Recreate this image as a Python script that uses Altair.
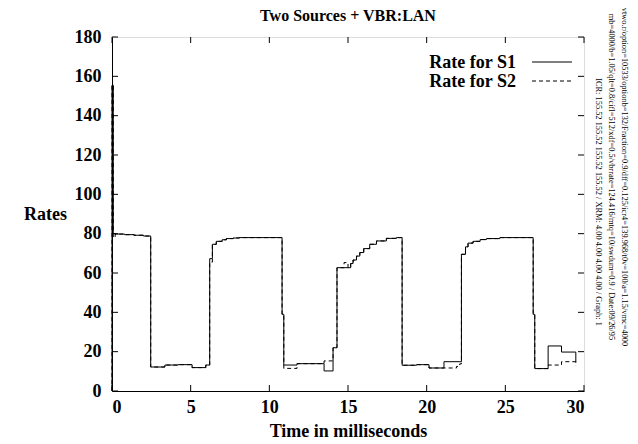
import altair as alt
import pandas as pd

# ---------------- data ----------------
S1_T = [0, 0, 0.08, 0.2, 0.8, 1.4, 2.0, 2.46, 3.36, 4.2, 5.09, 5.96, 6.21, 6.38, 6.63,
        7.0, 7.27, 7.7, 8.1, 10.81, 10.92, 11.76, 13.48, 14.05, 14.3, 15.17, 15.32,
        15.54, 15.75, 16.0, 16.38, 16.81, 17.44, 18.08, 18.44, 19.35, 20.15, 21.1,
        22.21, 22.47, 22.63, 22.95, 23.4, 23.8, 24.65, 26.77, 26.87, 27.72, 28.57, 29.48]
S1_V = [0, 155.5, 80, 79.8, 79.5, 79.2, 78.8, 12.2, 13.2, 13.4, 11.9, 13.2, 67.3, 74.6, 76.1,
        76.9, 77.5, 77.8, 78.0, 39, 13.2, 13.9, 10.2, 22, 62.7, 64.8, 66.6,
        68.6, 70.4, 72.4, 74.6, 76.3, 77.6, 78.0, 13.1, 13.4, 11.7, 14.9,
        69.5, 73.3, 75.2, 76.1, 77.0, 77.5, 78.0, 39, 11.4, 22.9, 19.8, 14.4]

S2_T = [0, 0, 0.08, 0.2, 0.8, 1.4, 2.0, 2.46, 3.36, 4.2, 5.09, 5.96, 6.21, 6.38, 6.63,
        7.0, 7.27, 7.7, 8.1, 10.81, 10.92, 11.76, 13.48, 14.05, 14.3, 14.75, 15.0, 15.17,
        15.32, 15.54, 15.75, 16.0, 16.38, 16.81, 17.44, 18.08, 18.44, 19.35, 20.15, 21.9,
        22.1, 22.21, 22.47, 22.63, 22.95, 23.4, 23.8, 24.65, 26.77, 26.87, 27.72, 28.57, 29.48]
S2_V = [0, 155.5, 78, 79.8, 79.5, 79.2, 78.8, 12.2, 13.2, 13.4, 11.9, 13.2, 65.5, 74.6, 76.1,
        76.9, 77.5, 77.8, 78.0, 39, 11.5, 13.9, 15.3, 22, 62.7, 65.3, 62.7, 64.8,
        66.6, 68.6, 70.4, 72.4, 74.6, 76.3, 77.6, 78.0, 13.1, 13.4, 11.7, 12.5,
        13.8, 69.5, 73.3, 75.2, 76.1, 77.0, 77.5, 78.0, 39, 11.4, 13.2, 14.9, 13.0]

X_TICKS = [0, 5, 10, 15, 20, 25, 30]
Y_TICKS = [0, 20, 40, 60, 80, 100, 120, 140, 160, 180]

TITLE = "Two Sources + VBR:LAN"
X_TITLE = "Time in milliseconds"
Y_TITLE = "Rates"
LEGEND_LABELS = ["Rate for S1", "Rate for S2"]
NOTES = [
    "vtwo.r/option=10533/optionb=132/Fraction=0.9/dff=0.125/icr4=139.968/t0v=100/a=1.15/vmc=4000",
    "mb=4000/b=1.05/qlt=0.8/cifl=512/xdf=0.5/vbrrate=124.416/mtq=10/swdum=0.9 / Date:09/26/95",
    "ICR: 155.52 155.52 155.52 155.52 / XRM: 4.00 4.00 4.00 4.00 / Graph: 1",
]

# ---------------- build ----------------
W, H = 472, 354
FONT = "Liberation Serif"

rows = []
for i, (t, v) in enumerate(zip(S1_T, S1_V)):
    rows.append({"t": t, "rate": v, "series": "S1", "idx": i})
for i, (t, v) in enumerate(zip(S2_T, S2_V)):
    rows.append({"t": t, "rate": v, "series": "S2", "idx": i})
df = pd.DataFrame(rows)

xscale = alt.Scale(domain=[0, 30], nice=False, zero=False)
yscale = alt.Scale(domain=[0, 180], nice=False)

xaxis = alt.Axis(values=X_TICKS, ticks=False, grid=False, format="d",
                 labelFont=FONT, labelFontWeight="bold", labelFontSize=18,
                 labelPadding=7, labelColor="black",
                 title=X_TITLE, titleFont=FONT, titleFontWeight="bold", titleFontSize=18,
                 titlePadding=6, titleColor="black",
                 domainColor="black", domainWidth=1)
yaxis = alt.Axis(values=Y_TICKS, ticks=False, grid=False, format="d",
                 labelFont=FONT, labelFontWeight="bold", labelFontSize=18,
                 labelPadding=11, labelColor="black",
                 title=Y_TITLE, titleFont=FONT, titleFontWeight="bold", titleFontSize=18,
                 titleColor="black", titleAngle=0, titleX=-67, titleY=H / 2,
                 titleAlign="center", titleBaseline="middle",
                 domainColor="black", domainWidth=1)

base = alt.Chart(df)
s1 = base.transform_filter(alt.datum.series == "S1").mark_line(
    interpolate="step-after", color="black", strokeWidth=1
).encode(
    x=alt.X("t:Q", scale=xscale, axis=xaxis),
    y=alt.Y("rate:Q", scale=yscale, axis=yaxis),
    order="idx:Q",
)
s2 = base.transform_filter(alt.datum.series == "S2").mark_line(
    interpolate="step-after", color="black", strokeWidth=1, strokeDash=[4, 3]
).encode(
    x=alt.X("t:Q", scale=xscale, axis=xaxis),
    y=alt.Y("rate:Q", scale=yscale, axis=yaxis),
    order="idx:Q",
)

xt = alt.Chart(pd.DataFrame({"t": X_TICKS}))
yt = alt.Chart(pd.DataFrame({"rate": Y_TICKS}))
tick_layers = [
    xt.mark_rule(color="black").encode(x=alt.X("t:Q", scale=xscale, axis=xaxis),
                                       y=alt.value(H), y2=alt.value(H - 6)),
    xt.mark_rule(color="black").encode(x=alt.X("t:Q", scale=xscale, axis=xaxis),
                                       y=alt.value(0), y2=alt.value(6)),
    yt.mark_rule(color="black").encode(y=alt.Y("rate:Q", scale=yscale, axis=yaxis),
                                       x=alt.value(0), x2=alt.value(6)),
    yt.mark_rule(color="black").encode(y=alt.Y("rate:Q", scale=yscale, axis=yaxis),
                                       x=alt.value(W), x2=alt.value(W - 6)),
]

leg_layers = []
leg_df = pd.DataFrame({"label": LEGEND_LABELS})
for k, (ty, ly, dash) in enumerate([(31, 25, [1, 0]), (49.5, 44, [4, 3])]):
    d = alt.Chart(leg_df).transform_filter(alt.datum.label == LEGEND_LABELS[k])
    leg_layers.append(
        d.mark_text(font=FONT, fontWeight="bold", fontSize=18, align="right",
                    baseline="alphabetic", color="black")
        .encode(x=alt.value(404), y=alt.value(ty), text="label:N"))
    leg_layers.append(
        d.mark_rule(color="black", strokeWidth=1, strokeDash=dash)
        .encode(x=alt.value(420), x2=alt.value(460), y=alt.value(ly)))

title_layer = alt.Chart(pd.DataFrame({"title": [TITLE]})).mark_text(
    font=FONT, fontWeight="bold", fontSize=16, align="center",
    baseline="alphabetic", color="black"
).encode(x=alt.value(W / 2), y=alt.value(-16), text="title:N")

notes_df = pd.DataFrame({"note": NOTES})
note_layers = []
for k, (nx, ny) in enumerate([(513, 140), (500, 140), (487, 165)]):
    note_layers.append(
        alt.Chart(notes_df).transform_filter(alt.datum.note == NOTES[k])
        .mark_text(font=FONT, fontSize=8.4, angle=90, align="center",
                   baseline="middle", color="black")
        .encode(x=alt.value(nx), y=alt.value(ny), text="note:N"))

chart = alt.layer(s2, s1, *tick_layers, *leg_layers, title_layer, *note_layers).properties(
    width=W, height=H,
    autosize=alt.AutoSizeParams(type="none"),
    padding={"left": 104, "top": 29, "right": 46, "bottom": 50},
).configure_view(stroke="black", strokeWidth=1).configure(background="white")

chart.save("out.html", embed_options={"renderer": "svg", "actions": False})
